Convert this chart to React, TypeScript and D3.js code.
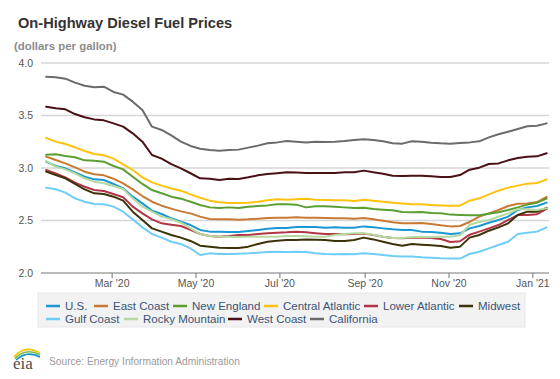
import React from "react";
import * as d3 from "d3";

const dates = [
  "2020-01-13","2020-01-20","2020-01-27","2020-02-03","2020-02-10","2020-02-17","2020-02-24",
  "2020-03-02","2020-03-09","2020-03-16","2020-03-23","2020-03-30","2020-04-06","2020-04-13",
  "2020-04-20","2020-04-27","2020-05-04","2020-05-11","2020-05-18","2020-05-25","2020-06-01",
  "2020-06-08","2020-06-15","2020-06-22","2020-06-29","2020-07-06","2020-07-13","2020-07-20",
  "2020-07-27","2020-08-03","2020-08-10","2020-08-17","2020-08-24","2020-08-31","2020-09-07",
  "2020-09-14","2020-09-21","2020-09-28","2020-10-05","2020-10-12","2020-10-19","2020-10-26",
  "2020-11-02","2020-11-09","2020-11-16","2020-11-23","2020-11-30","2020-12-07","2020-12-14",
  "2020-12-21","2020-12-28","2021-01-04","2021-01-11"
];

const usPrices = [3.06,3.019,2.997,2.959,2.917,2.892,2.886,2.848,2.806,2.727,2.663,2.594,2.562,
  2.521,2.489,2.457,2.41,2.394,2.394,2.39,2.39,2.4,2.41,2.422,2.429,2.429,
  2.438,2.438,2.438,2.432,2.435,2.432,2.432,2.444,2.435,2.425,2.416,2.41,2.41,
  2.394,2.39,2.384,2.371,2.378,2.425,2.448,2.479,2.505,2.537,2.6,2.625,2.638,2.67];
const eastCoast = [3.108,3.076,3.044,3.006,2.965,2.94,2.93,2.898,2.854,2.797,2.733,2.679,2.641,
  2.613,2.587,2.568,2.537,2.514,2.511,2.511,2.508,2.511,2.517,2.524,2.527,2.527,
  2.53,2.527,2.527,2.524,2.521,2.521,2.517,2.524,2.511,2.498,2.483,2.473,2.473,
  2.476,2.467,2.454,2.444,2.448,2.486,2.537,2.568,2.6,2.638,2.66,2.663,2.676,2.725];
const newEngland = [3.127,3.13,3.114,3.102,3.073,3.07,3.06,3.019,2.987,2.917,2.848,2.79,2.759,
  2.727,2.708,2.679,2.648,2.625,2.619,2.625,2.619,2.632,2.638,2.644,2.654,2.654,
  2.651,2.625,2.635,2.635,2.632,2.625,2.619,2.622,2.609,2.603,2.597,2.581,2.578,
  2.581,2.571,2.568,2.556,2.552,2.549,2.549,2.565,2.578,2.6,2.625,2.651,2.67,2.708];
const centralAtlantic = [3.286,3.251,3.229,3.197,3.162,3.133,3.121,3.089,3.035,2.981,2.911,2.863,2.832,
  2.805,2.784,2.749,2.717,2.689,2.673,2.667,2.667,2.67,2.679,2.692,2.702,2.698,
  2.702,2.708,2.698,2.695,2.692,2.692,2.686,2.698,2.689,2.679,2.67,2.663,2.654,
  2.654,2.648,2.644,2.641,2.641,2.689,2.711,2.749,2.784,2.813,2.832,2.851,2.857,2.892];
const lowerAtlantic = [2.981,2.949,2.911,2.86,2.822,2.79,2.781,2.752,2.721,2.632,2.568,2.511,2.473,
  2.46,2.448,2.41,2.371,2.352,2.346,2.352,2.362,2.362,2.371,2.378,2.384,2.387,
  2.394,2.387,2.378,2.371,2.371,2.368,2.372,2.375,2.362,2.345,2.333,2.33,2.336,
  2.338,2.333,2.324,2.295,2.302,2.365,2.394,2.425,2.457,2.505,2.552,2.552,2.56,2.61];
const midwest = [2.965,2.933,2.902,2.848,2.797,2.759,2.752,2.727,2.689,2.584,2.505,2.425,2.394,
  2.362,2.337,2.305,2.26,2.251,2.241,2.238,2.238,2.251,2.276,2.298,2.308,2.314,
  2.314,2.32,2.317,2.314,2.305,2.305,2.314,2.337,2.32,2.298,2.276,2.26,2.276,
  2.27,2.264,2.257,2.241,2.251,2.337,2.362,2.403,2.435,2.473,2.552,2.584,2.584,2.62];
const gulfCoast = [2.813,2.797,2.765,2.711,2.679,2.657,2.654,2.632,2.584,2.511,2.435,2.371,2.337,
  2.298,2.276,2.235,2.171,2.187,2.181,2.181,2.184,2.187,2.194,2.2,2.203,2.2,
  2.203,2.2,2.187,2.181,2.178,2.181,2.178,2.187,2.181,2.171,2.162,2.156,2.156,
  2.149,2.146,2.14,2.137,2.137,2.181,2.203,2.235,2.267,2.298,2.371,2.384,2.394,2.435];
const rockyMountain = [3.067,3.013,2.987,2.949,2.902,2.87,2.854,2.829,2.8,2.711,2.632,2.584,2.537,
  2.513,2.479,2.425,2.371,2.352,2.346,2.346,2.343,2.346,2.346,2.346,2.346,2.352,
  2.352,2.349,2.346,2.346,2.362,2.371,2.378,2.378,2.365,2.346,2.333,2.333,2.34,
  2.346,2.34,2.346,2.346,2.36,2.46,2.486,2.505,2.537,2.568,2.606,2.606,2.6,2.616];
const westCoast = [3.584,3.568,3.559,3.514,3.483,3.463,3.454,3.425,3.394,3.33,3.251,3.124,3.089,
  3.037,2.997,2.95,2.902,2.898,2.886,2.898,2.895,2.911,2.93,2.943,2.95,2.959,
  2.956,2.953,2.953,2.953,2.953,2.959,2.959,2.975,2.959,2.946,2.927,2.924,2.927,
  2.927,2.921,2.914,2.914,2.933,2.984,3.003,3.038,3.044,3.073,3.095,3.108,3.111,3.14];
const california = [3.87,3.865,3.851,3.813,3.784,3.768,3.774,3.724,3.699,3.632,3.552,3.394,3.362,
  3.31,3.251,3.21,3.184,3.171,3.165,3.171,3.175,3.194,3.213,3.235,3.244,3.257,
  3.251,3.244,3.251,3.248,3.251,3.257,3.267,3.273,3.267,3.254,3.235,3.232,3.254,
  3.251,3.241,3.235,3.232,3.238,3.244,3.254,3.292,3.321,3.346,3.371,3.397,3.403,3.425];

const seriesNames = ["U.S.","East Coast","New England","Central Atlantic","Lower Atlantic","Midwest",
  "Gulf Coast","Rocky Mountain","West Coast","California"];
const seriesValues = [usPrices,eastCoast,newEngland,centralAtlantic,lowerAtlantic,midwest,
  gulfCoast,rockyMountain,westCoast,california];
const seriesColors = ["#1a98d5","#c87a34","#5b9f32","#ffc20f","#b23447","#3c3207",
  "#6fcdf8","#b5d99f","#4a1015","#6b6b6b"];

const yTicks = [2.0,2.5,3.0,3.5,4.0];
const xTickDates = ["2020-03-01","2020-05-01","2020-07-01","2020-09-01","2020-11-01","2021-01-01"];
const xTickLabels = ["Mar '20","May '20","Jul '20","Sep '20","Nov '20","Jan '21"];

// legend layout (text start x per item, row)
const legendTextX = [65,113,192,283,383,478,65,143,247,329];
const legendRow = [0,0,0,0,0,0,1,1,1,1];

const FONT = "'Liberation Sans', Arial, Helvetica, sans-serif";

export default function App() {
  const parse = (s: string) => new Date(s + "T00:00:00Z");
  const x = d3.scaleUtc()
    .domain([parse("2020-01-10"), parse("2021-01-12")])
    .range([42, 548]);
  const y = d3.scaleLinear().domain([2, 4]).range([273, 63]);
  const dts = dates.map(parse);
  const line = d3.line<number>()
    .x((_, i) => x(dts[i]))
    .y((v) => y(v));

  return (
    <svg width={560} height={379} style={{ position: "absolute", left: 0, top: 0, background: "#fff" }}
      fontFamily={FONT}>
      <text x={18} y={28} fontSize={14.6} fontWeight="bold" fill="#333">On-Highway Diesel Fuel Prices</text>
      <text x={14} y={50} fontSize={11.4} fontWeight="bold" fill="#8c8c8c">(dollars per gallon)</text>

      {yTicks.map((t) => (
        <g key={t}>
          {t > 2 && <line x1={41} x2={549} y1={y(t)} y2={y(t)} stroke="#d6d6d6" strokeWidth={1.5} />}
          <text x={33} y={y(t)} dy="0.35em" textAnchor="end" fontSize={10.5} fill="#555">{t.toFixed(1)}</text>
        </g>
      ))}
      <line x1={41} x2={549} y1={y(2)} y2={y(2)} stroke="#777" strokeWidth={1} />
      {xTickDates.map((d, i) => {
        const px = x(parse(d));
        return (
          <g key={d}>
            <line x1={px} x2={px} y1={y(2)} y2={y(2) + 5} stroke="#777" strokeWidth={1} />
            <text x={px} y={287} textAnchor="middle" fontSize={10.5} fill="#555">{xTickLabels[i]}</text>
          </g>
        );
      })}

      {seriesValues.map((vals, k) => (
        <path key={seriesNames[k]} d={line(vals) || ""} fill="none" stroke={seriesColors[k]}
          strokeWidth={2} strokeLinejoin="round" strokeLinecap="round" />
      ))}

      <rect x={38} y={293} width={487} height={34} fill="#f2f2f2" stroke="#e8e8e8" strokeWidth={1} />
      {seriesNames.map((n, k) => {
        const tx = legendTextX[k];
        const cy = legendRow[k] === 0 ? 306 : 319;
        return (
          <g key={n}>
            <line x1={tx - 19} x2={tx - 5} y1={cy} y2={cy} stroke={seriesColors[k]} strokeWidth={2.5} />
            <text x={tx} y={cy} dy="0.35em" fontSize={11.5} fill="#3b5475">{n}</text>
          </g>
        );
      })}

      <g>
        <path d="M14,357 Q25,344 40,353" fill="none" stroke="#f4c20d" strokeWidth={1.6} />
        <path d="M15,358.5 Q26,347 40,355" fill="none" stroke="#72bf44" strokeWidth={1.6} />
        <path d="M16,360 Q27,350 40,357" fill="none" stroke="#1b8ecf" strokeWidth={1.6} />
        <text x={13} y={369} fontSize={17} fontFamily="'Liberation Serif', 'DejaVu Serif', serif" fill="#4d4d4d">eia</text>
      </g>
      <text x={49} y={365} fontSize={10.2} fill="#9a9a9a">Source: Energy Information Administration</text>
    </svg>
  );
}
